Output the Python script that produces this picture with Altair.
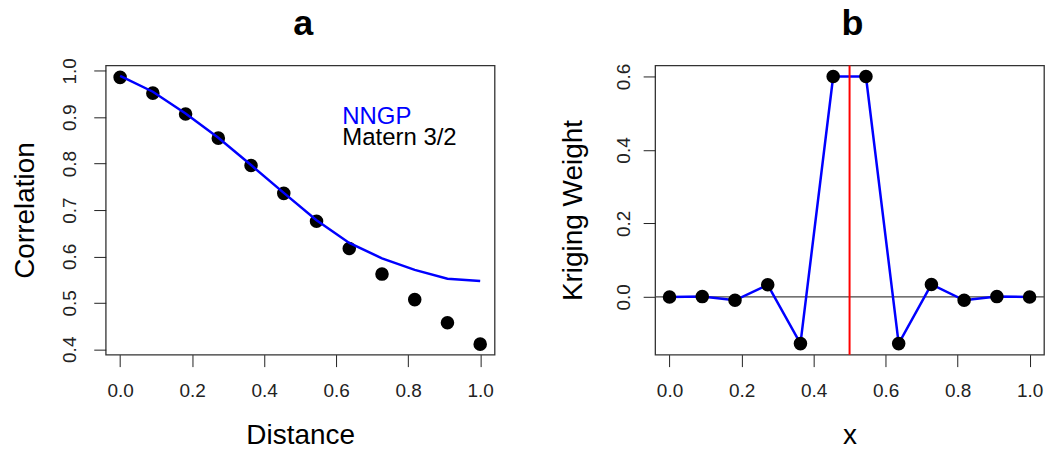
import altair as alt
import pandas as pd

# ---- data ----
dist = [0.0, 0.0909, 0.1818, 0.2727, 0.3636, 0.4545, 0.5455, 0.6364, 0.7273, 0.8182, 0.9091, 1.0]
matern = [0.986, 0.952, 0.907, 0.855, 0.796, 0.736, 0.676, 0.617, 0.562, 0.507, 0.457, 0.411]
nngp = [0.989, 0.955, 0.908, 0.856, 0.797, 0.737, 0.678, 0.629, 0.596, 0.571, 0.552, 0.547]

xs = [0.0, 0.0909, 0.1818, 0.2727, 0.3636, 0.4545, 0.5455, 0.6364, 0.7273, 0.8182, 0.9091, 1.0]
weights = [0.0, 0.001, -0.009, 0.033, -0.127, 0.600, 0.600, -0.127, 0.034, -0.009, 0.001, 0.0]
target_x = [0.5]
zero_y = [0.0]

x_ticks = [0.0, 0.2, 0.4, 0.6, 0.8, 1.0]
ya_ticks = [0.4, 0.5, 0.6, 0.7, 0.8, 0.9, 1.0]
yb_ticks = [0.0, 0.2, 0.4, 0.6]

legend_labels = ["NNGP", "Matern 3/2"]
panel_titles = ["a", "b"]

FONT = "Liberation Sans"
W, H = 390, 290

dfa = pd.DataFrame({"d": dist, "matern": matern, "nngp": nngp})
dfb = pd.DataFrame({"x": xs, "w": weights})
one = pd.DataFrame({"k": [0]})

xscale = alt.Scale(domain=[-0.04, 1.04], nice=False, zero=False)


def xaxis(title):
    return alt.Axis(values=x_ticks, format=".1f", grid=False, domain=False,
                    tickSize=12, tickColor="#222", tickWidth=1,
                    labelFontSize=19, labelPadding=15, labelColor="#222", labelFont=FONT,
                    labelFlush=False,
                    title=title, titleFontSize=28, titleFontWeight="normal", titleFont=FONT,
                    titleBaseline="alphabetic", titleY=89, titleX=W / 2, titleColor="#000")


def yaxis(title, vals, fmt, lpad, tx):
    return alt.Axis(values=vals, format=fmt, grid=False, domain=False,
                    tickSize=12, tickColor="#222", tickWidth=1,
                    labelFontSize=19, labelPadding=lpad, labelColor="#222", labelFont=FONT,
                    labelAngle=-90, labelAlign="center", labelBaseline="alphabetic",
                    labelFlush=False,
                    title=title, titleFontSize=28, titleFontWeight="normal", titleFont=FONT,
                    titleAngle=270, titleAlign="center", titleBaseline="alphabetic",
                    titleX=tx, titleY=H / 2, titleColor="#000")


def panel_title(t):
    return alt.Chart(one).mark_text(text=t, fontSize=36, fontWeight="bold", font=FONT,
                                    align="center", baseline="alphabetic", color="#000").encode(
        x=alt.value(W / 2 + 3), y=alt.value(-31))


ya_scale = alt.Scale(domain=[0.3884, 1.0116], nice=False, zero=False)
yb_scale = alt.Scale(domain=[-0.157, 0.630], nice=False, zero=False)

base_a = alt.Chart(dfa)
pts_a = base_a.mark_circle(size=185, color="black", opacity=1).encode(
    x=alt.X("d:Q", scale=xscale, axis=xaxis("Distance")),
    y=alt.Y("matern:Q", scale=ya_scale, axis=yaxis("Correlation", ya_ticks, ".1f", 18, -72)),
)
line_a = base_a.mark_line(color="#0000ff", strokeWidth=2.5).encode(
    x=alt.X("d:Q", scale=xscale),
    y=alt.Y("nngp:Q", scale=ya_scale),
)
lab1 = alt.Chart(one).mark_text(text=legend_labels[0], color="#0000ff", fontSize=24, font=FONT,
                                align="left", baseline="alphabetic").encode(
    x=alt.datum(0.617), y=alt.datum(0.885))
lab2 = alt.Chart(one).mark_text(text=legend_labels[1], color="#000", fontSize=24, font=FONT,
                                align="left", baseline="alphabetic").encode(
    x=alt.datum(0.617), y=alt.datum(0.841))

panel_a = alt.layer(pts_a, line_a, lab1, lab2, panel_title(panel_titles[0])).properties(
    width=W, height=H)

base_b = alt.Chart(dfb)
hline = alt.Chart(pd.DataFrame({"z": zero_y})).mark_rule(color="#444", strokeWidth=1.2).encode(
    y=alt.Y("z:Q", scale=yb_scale))
line_b = base_b.mark_line(color="#0000ff", strokeWidth=2.5).encode(
    x=alt.X("x:Q", scale=xscale, axis=xaxis("x")),
    y=alt.Y("w:Q", scale=yb_scale, axis=yaxis("Kriging Weight", yb_ticks, ".1f", 14, -74)),
)
pts_b = base_b.mark_circle(size=185, color="black", opacity=1).encode(
    x=alt.X("x:Q", scale=xscale),
    y=alt.Y("w:Q", scale=yb_scale),
)
vline = alt.Chart(pd.DataFrame({"t": target_x})).mark_rule(color="#ff0000", strokeWidth=2).encode(
    x=alt.X("t:Q", scale=xscale))

panel_b = alt.layer(hline, line_b, pts_b, vline, panel_title(panel_titles[1])).properties(
    width=W, height=H)

chart = (
    alt.hconcat(panel_a, panel_b, spacing=63)
    .properties(padding={"left": 3, "top": -4, "right": 0, "bottom": 0})
    .configure(font=FONT, background="white")
    .configure_view(stroke="#333", strokeWidth=1.3)
)

chart.save("out.html", embed_options={"renderer": "svg", "actions": False})
